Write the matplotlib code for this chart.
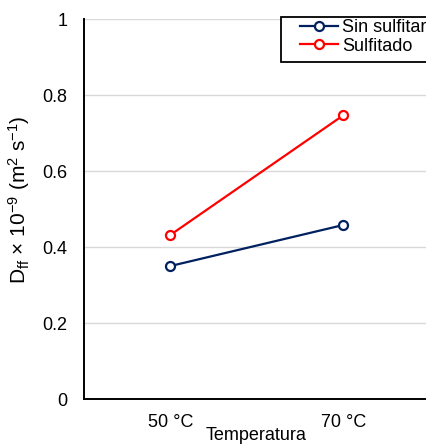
import matplotlib
matplotlib.use("Agg")
import matplotlib.pyplot as plt
from matplotlib.patches import Rectangle

categories = ["50 °C", "70 °C"]
sin_sulfitar = [0.35, 0.458]
sulfitado = [0.432, 0.747]
yticks = [0, 0.2, 0.4, 0.6, 0.8, 1]
ytick_labels = ["0", "0.2", "0.4", "0.6", "0.8", "1"]

plt.rcParams['font.family'] = ['Liberation Sans', 'DejaVu Sans']
plt.rcParams['mathtext.fontset'] = 'custom'
plt.rcParams['mathtext.rm'] = 'Liberation Sans'
plt.rcParams['mathtext.it'] = 'Liberation Sans:italic'
plt.rcParams['mathtext.bf'] = 'Liberation Sans:bold'

W, H = 427, 445
fig = plt.figure(figsize=(W/100, H/100), dpi=100)
ax = fig.add_axes([84/W, 1-399/H, (430-84)/W, (399-19)/H])

x = list(range(len(categories)))
ax.plot(x, sin_sulfitar, color='#002060', lw=1.6, marker='o', ms=6.5,
        mfc='white', mec='#002060', mew=1.6, label='Sin sulfitar', zorder=3)
ax.plot(x, sulfitado, color='#ff0000', lw=1.6, marker='o', ms=6.5,
        mfc='white', mec='#ff0000', mew=1.6, label='Sulfitado', zorder=3)

ax.set_xlim(-0.5, 1.5)
ax.set_ylim(0, 1)
ax.set_xticks(x)
ax.set_xticklabels(categories, fontsize=13)
ax.set_yticks(yticks)
ax.set_yticklabels(ytick_labels, fontsize=13)
ax.tick_params(axis='both', length=0)
ax.tick_params(axis='y', pad=12)
ax.tick_params(axis='x', pad=11)
ax.grid(axis='y', color='#d9d9d9', lw=1.0)
ax.set_axisbelow(True)
for s in ['top', 'right']:
    ax.spines[s].set_visible(False)
for s in ['left', 'bottom']:
    ax.spines[s].set_color('black')
    ax.spines[s].set_linewidth(1.4)
ax.spines['left'].set_zorder(4)

ax.set_ylabel("D$_{\\mathrm{ff}}$ × 10$^{\\mathrm{-9}}$ (m$^{\\mathrm{2}}$ s$^{\\mathrm{-1}}$)", fontsize=15)
ax.yaxis.set_label_coords(32/W, 1-200/H, transform=fig.transFigure)
fig.text(256/W, 1-436/H, "Temperatura", ha='center', va='center', fontsize=13)

# legend frame (drawn separately, extends past the figure edge like the reference)
frame = Rectangle((281/W, 1-62/H), (445-281)/W, (62-17)/H, transform=fig.transFigure,
                  fill=True, facecolor='white', edgecolor='black', lw=1.3,
                  zorder=5, clip_on=False)
ax.add_artist(frame)

leg = ax.legend(loc='upper left', bbox_to_anchor=(300/W, 1-19/H),
                bbox_transform=fig.transFigure, fontsize=13, frameon=False,
                borderaxespad=0, borderpad=0,
                handlelength=2.1, handletextpad=0.25,
                labelspacing=0.1)
leg.set_zorder(6)

fig.savefig("out.png", dpi=100)
